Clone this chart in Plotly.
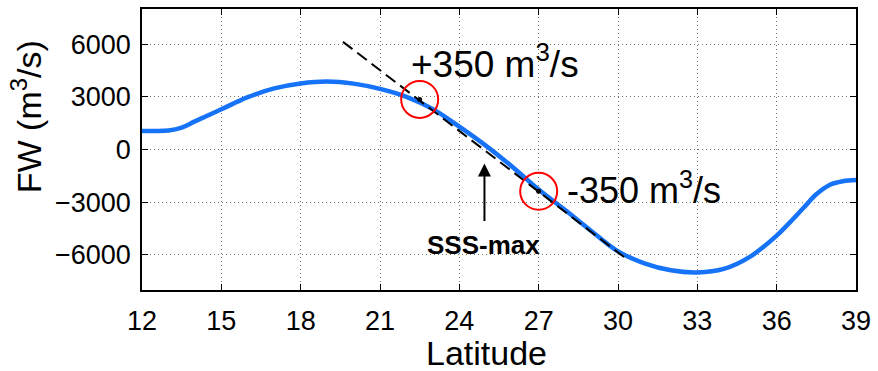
import plotly.graph_objects as go

# Curve data (latitude vs freshwater transport)
lat = [12, 12.5, 13, 13.5, 14, 15, 16, 17, 18, 19, 20, 21, 22, 23, 24, 25, 26, 27,
       28, 29, 30, 31, 32, 33, 34, 35, 36, 36.5, 37, 37.5, 38, 38.5, 39]
fw = [1050, 1050, 1080, 1250, 1600, 2290, 2980, 3480, 3760, 3870, 3750, 3450, 3000,
      2300, 1300, 220, -980, -2280, -3450, -4650, -5800, -6480, -6880, -7000,
      -6800, -6100, -4900, -4150, -3350, -2550, -2020, -1810, -1740]

# Dashed tangent line endpoints
tan_lat = [19.6, 30.25]
tan_fw = [6130, -6150]

# Circled points
pt_lat = [22.5, 27.0]
pt_fw = [2850, -2380]
pt_labels = ["+350 m<sup>3</sup>/s", "-350 m<sup>3</sup>/s"]

# SSS-max arrow
arrow_lat = 24.95
arrow_tip_fw = -800
arrow_tail_fw = -4150

xticks = [12, 15, 18, 21, 24, 27, 30, 33, 36, 39]
yticks = [-6000, -3000, 0, 3000, 6000]

FONT = "Liberation Sans, Arial, Helvetica, sans-serif"

fig = go.Figure()
fig.add_trace(go.Scatter(x=lat, y=fw, mode="lines",
                         line=dict(color="#1673F7", width=4.5, shape="spline", smoothing=1.0),
                         hoverinfo="skip", showlegend=False))
fig.add_trace(go.Scatter(x=tan_lat, y=tan_fw, mode="lines",
                         line=dict(color="black", width=2, dash="12px,6px"),
                         hoverinfo="skip", showlegend=False))
fig.add_trace(go.Scatter(x=pt_lat, y=pt_fw, mode="markers",
                         marker=dict(symbol="circle-open", size=37, color="#FF0000",
                                     line=dict(width=2, color="#FF0000")),
                         hoverinfo="skip", showlegend=False))
fig.add_trace(go.Scatter(x=pt_lat, y=pt_fw, mode="markers",
                         marker=dict(symbol="circle", size=5, color="black"),
                         hoverinfo="skip", showlegend=False))

annotations = [
    dict(x=pt_lat[0], y=pt_fw[0], xref="x", yref="y", text=pt_labels[0],
         showarrow=False, xanchor="left", yanchor="middle", xshift=-11, yshift=38,
         font=dict(family=FONT, size=37, color="black")),
    dict(x=pt_lat[1], y=pt_fw[1], xref="x", yref="y", text=pt_labels[1],
         showarrow=False, xanchor="left", yanchor="middle", xshift=26, yshift=3,
         font=dict(family=FONT, size=36, color="black")),
    dict(x=arrow_lat, y=arrow_tip_fw, ax=arrow_lat, ay=arrow_tail_fw,
         xref="x", yref="y", axref="x", ayref="y", text="", showarrow=True,
         arrowhead=2, arrowsize=1.3, arrowwidth=2, arrowcolor="black"),
    dict(x=arrow_lat, y=arrow_tail_fw, xref="x", yref="y", text="<b>SSS-max</b>",
         showarrow=False, xanchor="center", yanchor="top", xshift=-1, yshift=-6,
         font=dict(family=FONT, size=26, color="black")),
    # axis titles
    dict(x=0, y=(290 - 116) / 283, xref="paper", yref="paper", text="FW (m<sup>3</sup>/s)",
         textangle=-90, showarrow=False, xanchor="center", yanchor="middle",
         xshift=-116, font=dict(family=FONT, size=34, color="black")),
    dict(x=(489 - 142) / 719, y=0, xref="paper", yref="paper", text="Latitude",
         showarrow=False, xanchor="center", yanchor="middle",
         yshift=-63, font=dict(family=FONT, size=34, color="black")),
]

fig.update_layout(
    width=878, height=371,
    margin=dict(l=142, r=17, t=7, b=81),
    paper_bgcolor="white", plot_bgcolor="white",
    font=dict(family=FONT, color="black"),
    annotations=annotations,
    xaxis=dict(range=[12, 39], tickvals=xticks, ticks="inside", ticklen=6,
               tickcolor="black", showline=True, linecolor="black", linewidth=1.5,
               mirror="ticks", showgrid=True, gridcolor="rgba(0,0,0,0.55)",
               griddash="1px,3px", gridwidth=1, zeroline=False,
               tickfont=dict(family=FONT, size=27, color="black"),
               ticklabelstandoff=6),
    yaxis=dict(range=[-8000, 8000], tickvals=yticks, ticks="inside", ticklen=6,
               tickcolor="black", showline=True, linecolor="black", linewidth=1.5,
               mirror="ticks", showgrid=True, gridcolor="rgba(0,0,0,0.55)",
               griddash="1px,3px", gridwidth=1, zeroline=False,
               tickfont=dict(family=FONT, size=27, color="black"),
               ticklabelstandoff=4),
)

fig.write_html("out.html")
